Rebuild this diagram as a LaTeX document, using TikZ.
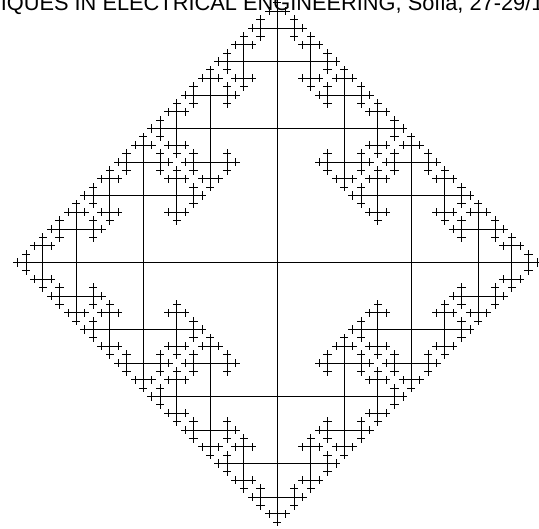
\documentclass[tikz,border=0pt]{standalone}
\usepackage{fontspec}
\setmainfont{Liberation Sans}
\tikzset{
  fracline/.style={line width=0.85pt, black, line cap=butt},
  titletext/.style={anchor=base west, inner sep=0pt, font=\fontsize{21.8}{24}\selectfont}
}
\newcommand\fracbranch[6]{%
  \begingroup
  \pgfmathsetmacro\fbx{#1+(#3)*(#5)}%
  \pgfmathsetmacro\fby{#2+(#4)*(#5)}%
  \draw[fracline] (#1,#2) -- (\fbx,\fby);
  \ifnum#6>1\relax
    \pgfmathsetmacro\fbl{(#5)/2}%
    \edef\fbnext{%
      \noexpand\fracbranch{\fbx}{\fby}{#3}{#4}{\fbl}{\the\numexpr#6-1\relax}%
      \noexpand\fracbranch{\fbx}{\fby}{\the\numexpr0-(#4)\relax}{#3}{\fbl}{\the\numexpr#6-1\relax}%
      \noexpand\fracbranch{\fbx}{\fby}{#4}{\the\numexpr0-(#3)\relax}{\fbl}{\the\numexpr#6-1\relax}%
    }%
    \fbnext
  \fi
  \endgroup
}
\begin{document}
\begin{tikzpicture}[x=1pt,y=1pt]
\useasboundingbox (0,0) rectangle (539,529);
\clip (0,0) rectangle (539,529);
\coordinate (c) at (277.3,266.5);
\fracbranch{277.3}{266.5}{1}{0}{134}{6}
\fracbranch{277.3}{266.5}{-1}{0}{134}{6}
\fracbranch{277.3}{266.5}{0}{1}{134}{6}
\fracbranch{277.3}{266.5}{0}{-1}{134}{6}
\node[titletext] (title) at (-74.5,518) {TECHNIQUES IN ELECTRICAL ENGINEERING, Sofia, 27-29/1};
\end{tikzpicture}
\end{document}
